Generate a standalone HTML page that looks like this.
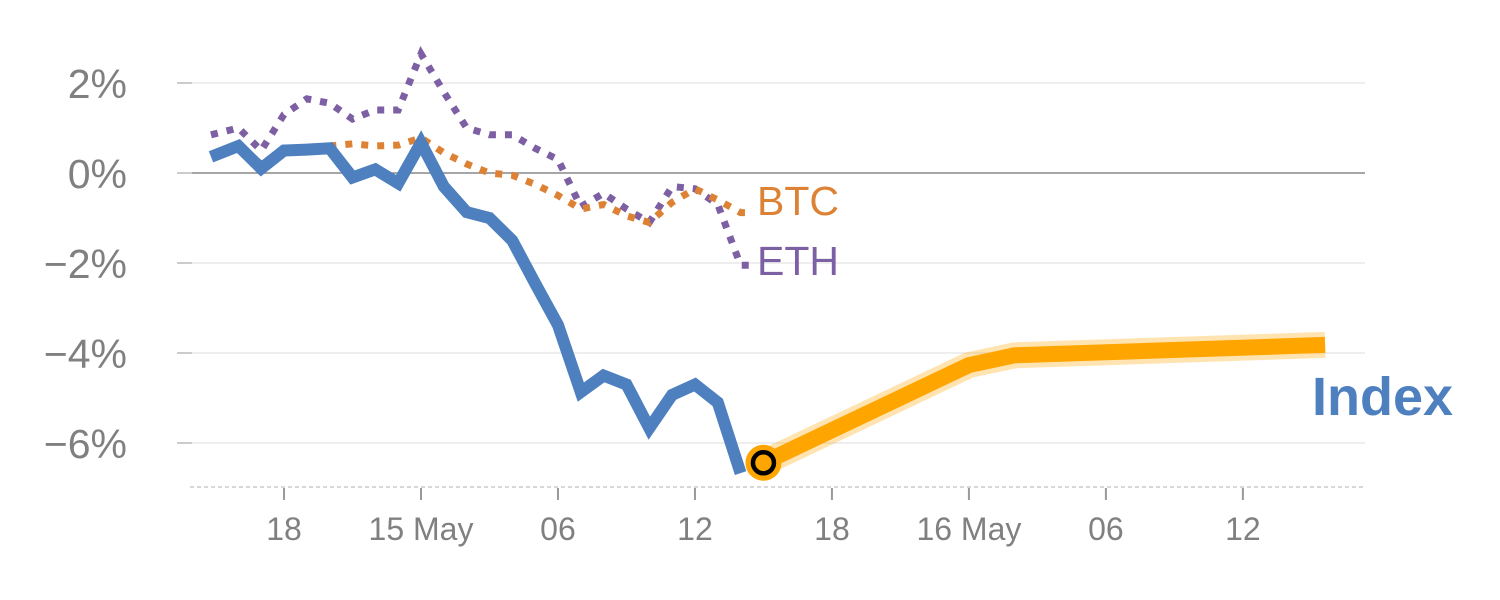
<!DOCTYPE html>
<html><head><meta charset="utf-8">
<style>
html,body{margin:0;padding:0;background:#fff;}
svg{display:block;font-family:"Liberation Sans",sans-serif;}
</style></head>
<body>
<svg id="chart" width="1500" height="600" viewBox="0 0 1500 600" xmlns="http://www.w3.org/2000/svg">
<g id="grid"></g>
<g id="yaxis"></g>
<g id="xaxis"></g>
<g id="series"></g>
</svg>
<script>
// hours relative to 15 May 00:00
const hours = [-9.2,-8,-7,-6,-5,-4,-3,-2,-1,0,1,2,3,4,5,6,7,8,9,10,11,12,13,14];
const indexVals = [0.36,0.6,0.1,0.5,0.52,0.55,-0.1,0.08,-0.23,0.67,-0.3,-0.87,-1.0,-1.5,-2.45,-3.38,-4.87,-4.5,-4.7,-5.67,-4.93,-4.7,-5.1,-6.67];
const btcVals = [0.4,0.55,0.2,0.5,0.55,0.6,0.65,0.6,0.62,0.78,0.45,0.2,0.0,-0.05,-0.25,-0.5,-0.8,-0.7,-0.95,-1.1,-0.65,-0.35,-0.6,-0.88];
const ethVals = [0.85,1.0,0.5,1.3,1.65,1.55,1.2,1.4,1.4,2.65,1.8,1.0,0.85,0.85,0.55,0.3,-0.75,-0.45,-0.8,-1.1,-0.3,-0.35,-0.7,-2.05];
const projHours = [15,24,26,39.6];
const projVals = [-6.44,-4.27,-4.05,-3.82];
const yTicks = [2,0,-2,-4,-6];
const yTickLabels = ["2%","0%","\u22122%","\u22124%","\u22126%"];
const xTicks = [-6,0,6,12,18,24,30,36];
const xTickLabels = ["18","15 May","06","12","18","16 May","06","12"];

const NS="http://www.w3.org/2000/svg";
const X = h => 421 + h*22.83;
const Y = v => 173 - 45*v;
function mk(tag, attrs, parent){const e=document.createElementNS(NS,tag);for(const k in attrs)e.setAttribute(k,attrs[k]);parent.appendChild(e);return e;}
const grid=document.getElementById('grid'),ya=document.getElementById('yaxis'),xa=document.getElementById('xaxis'),ser=document.getElementById('series');

yTicks.forEach((v,i)=>{
  const l=mk('line',{x1:192,x2:1365,y1:Y(v),y2:Y(v),stroke:v===0?'#888':'#e3e3e3','stroke-width':v===0?1.5:1.2},grid);
  
  
  const t=mk('line',{x1:177,x2:192,y1:Y(v),y2:Y(v),stroke:'#bbb','stroke-width':1.5},ya);
  
  
  const tx=mk('text',{x:127,y:Y(v)+15,'text-anchor':'end','font-size':41,fill:'#808080'},ya);
  tx.textContent=yTickLabels[i];
  
  
});
const base=mk('line',{x1:190,x2:1365,y1:487,y2:487,stroke:'#ccc','stroke-width':1.5,'stroke-dasharray':'4 3'},xa);


xTicks.forEach((h,i)=>{
  const t=mk('line',{x1:X(h),x2:X(h),y1:488,y2:500,stroke:'#999','stroke-width':2},xa);
  
  
  const tx=mk('text',{x:X(h),y:540,'text-anchor':'middle','font-size':32,fill:'#808080'},xa);
  tx.textContent=xTickLabels[i];
  
  
});
function pts(hs,vs){return hs.map((h,i)=>X(h).toFixed(1)+','+Y(vs[i]).toFixed(1)).join(' ');}

const eth=mk('polyline',{points:pts(hours.concat([14.4]),ethVals.concat([ethVals[ethVals.length-1]])),fill:'none',stroke:'#7d5fa4','stroke-width':7,'stroke-dasharray':'7 9'},ser);


const btc=mk('polyline',{points:pts(hours.concat([14.4]),btcVals.concat([btcVals[btcVals.length-1]])),fill:'none',stroke:'#dd8235','stroke-width':7,'stroke-dasharray':'7 9'},ser);


const idx=mk('polyline',{points:pts(hours,indexVals),fill:'none',stroke:'#4e7fbf','stroke-width':12,'stroke-linejoin':'miter'},ser);


const halo=mk('polyline',{points:pts(projHours,projVals),fill:'none',stroke:'#ffa500','stroke-opacity':0.3,'stroke-width':26},ser);


const proj=mk('polyline',{points:pts(projHours,projVals),fill:'none',stroke:'#ffa500','stroke-width':16},ser);


const dot=mk('circle',{cx:X(projHours[0]),cy:Y(projVals[0]),r:18,fill:'#ffa500'},ser);


const ring=mk('circle',{cx:X(projHours[0]),cy:Y(projVals[0]),r:10.5,fill:'#ffa500',stroke:'#000','stroke-width':4.5},ser);



const lb=mk('text',{x:757,y:215,'font-size':41,fill:'#dd8235'},ser);lb.textContent='BTC';


const le=mk('text',{x:757,y:275,'font-size':41,fill:'#7d5fa4'},ser);le.textContent='ETH';


const li=mk('text',{x:1312,y:415,'font-size':54,'font-weight':'bold',fill:'#4e7fbf'},ser);li.textContent='Index';


</script>
</body></html>
